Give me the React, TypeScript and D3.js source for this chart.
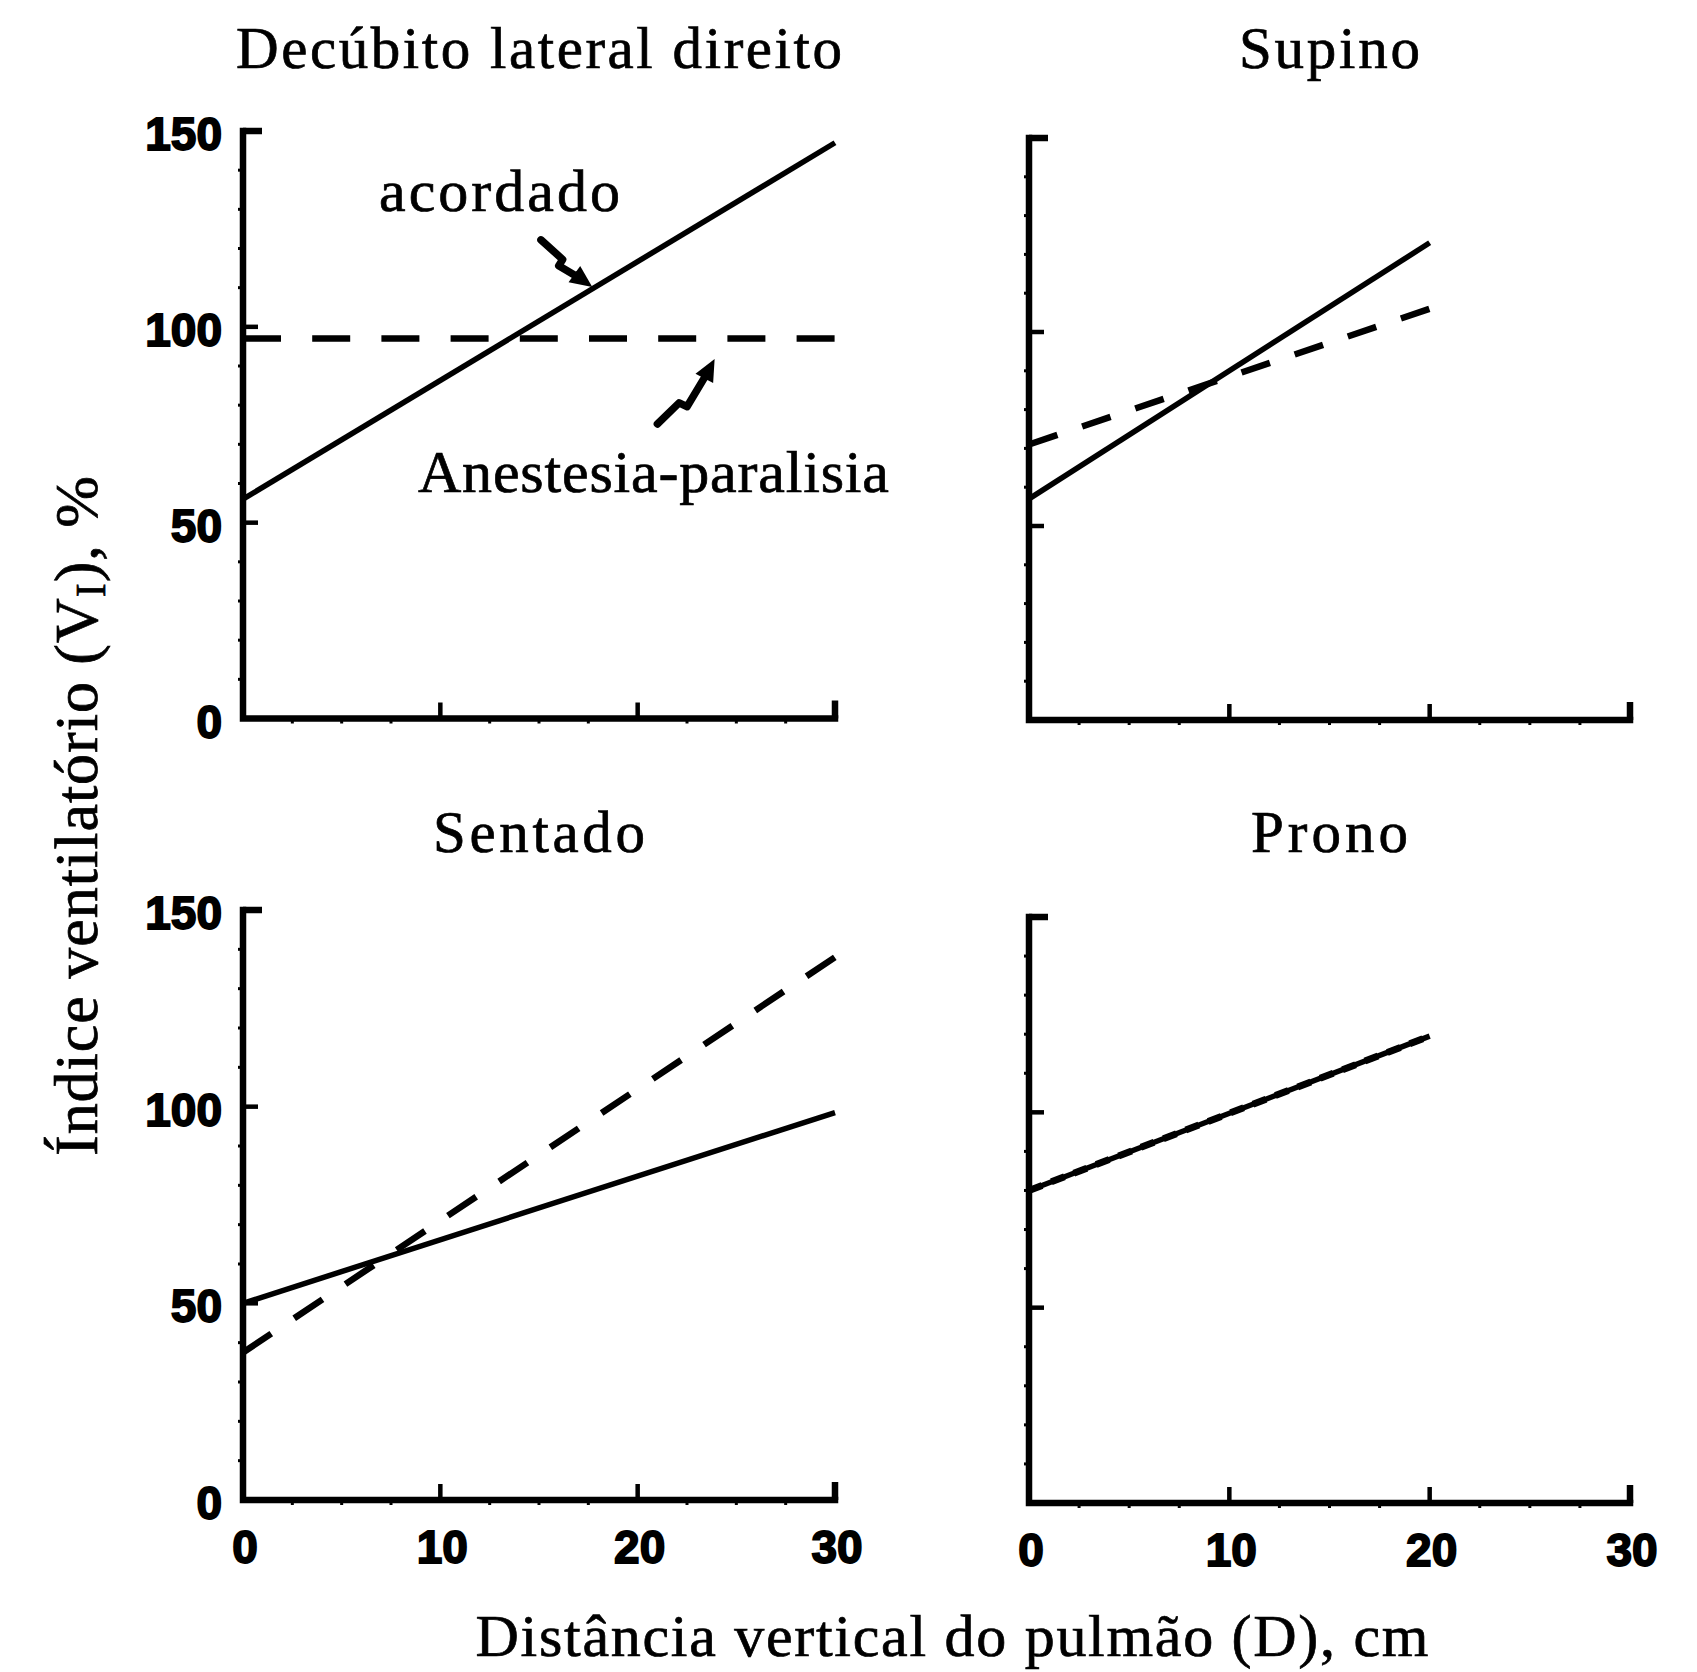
import React from 'react';
import * as d3 from 'd3';

// values (x = cm, y = %)
const panelTitles = ['Decúbito lateral direito', 'Supino', 'Sentado', 'Prono'];
const xTickValues = [0, 10, 20, 30];
const yTickValues = [0, 50, 100, 150];
const yMinorValues = [10, 20, 30, 40, 60, 70, 80, 90, 110, 120, 130, 140];
const xMinorValues = [2.5, 5, 7.5, 12.5, 15, 17.5, 22.5, 25, 27.5];

const lateralAwake = [[0, 56], [30, 147]];
const lateralAnesth = [[0, 97], [30, 97]];
const supineAwake = [[0, 57], [20, 123]];
const supineAnesth = [[0, 71], [20, 106]];
const sittingAwake = [[0, 50], [30, 98.5]];
const sittingAnesth = [[0, 37.5], [30, 138]];
const proneAwake = [[0, 80], [20, 119.5]];
const proneAnesth = [[0, 80], [20, 119.5]];

// annotation arrows, in data units of the first panel
const awakeArrow = [[15.1, 122.2], [16.2, 117.2], [16.0, 115.6], [17.2, 112.0]];
const awakeArrowTip = [17.7, 110.2];
const anesthArrow = [[21.0, 75.2], [22.1, 80.6], [22.5, 79.6], [23.5, 88.0]];
const anesthArrowTip = [23.9, 91.8];

const serif = "'Liberation Serif', 'DejaVu Serif', serif";
const sans = "'Liberation Sans', Arial, sans-serif";

const frames = [
  { x0: 243, x1: 835, yTop: 131, yBot: 718.5, yLabels: true, xLabels: false, titleY: 68 },
  { x0: 1029, x1: 1630, yTop: 138, yBot: 720, yLabels: false, xLabels: false, titleY: 68 },
  { x0: 243, x1: 835, yTop: 910, yBot: 1500, yLabels: true, xLabels: true, titleY: 852 },
  { x0: 1029, x1: 1630, yTop: 917, yBot: 1503, yLabels: false, xLabels: true, titleY: 852 },
];
const titleWidths = [606, 181, 212, 157];

const series = [
  [lateralAwake, lateralAnesth],
  [supineAwake, supineAnesth],
  [sittingAwake, sittingAnesth],
  [proneAwake, proneAnesth],
];
const dashes = ['38 31.2', '30 26.1', '34 27.6', '14 10'];

function Arrow({ pts, tip, x, y }) {
  const line = d3.line().x(d => x(d[0])).y(d => y(d[1]));
  const last = pts[pts.length - 1];
  const tx = x(tip[0]), ty = y(tip[1]);
  const lx = x(last[0]), ly = y(last[1]);
  const ang = Math.atan2(ty - ly, tx - lx);
  const len = 22, half = 10;
  const bx = tx - len * Math.cos(ang), by = ty - len * Math.sin(ang);
  const head = [
    [tx, ty],
    [bx + half * Math.sin(ang), by - half * Math.cos(ang)],
    [bx - half * Math.sin(ang), by + half * Math.cos(ang)],
  ];
  return (
    <g>
      <path d={line(pts)} fill="none" stroke="#000" strokeWidth={7.5} strokeLinejoin="round" strokeLinecap="round" />
      <path d={line(pts.slice(-1).concat([[x.invert(bx), y.invert(by)]]))} fill="none" stroke="#000" strokeWidth={7.5} />
      <polygon points={head.map(p => p.join(',')).join(' ')} fill="#000" />
    </g>
  );
}

function Panel({ idx }) {
  const f = frames[idx];
  const x = d3.scaleLinear().domain([0, 30]).range([f.x0, f.x1]);
  const y = d3.scaleLinear().domain([0, 150]).range([f.yBot, f.yTop]);
  const line = d3.line().x(d => x(d[0])).y(d => y(d[1]));
  const [awake, anesth] = series[idx];
  const cx = (f.x0 + f.x1) / 2;
  return (
    <g>
      <text x={cx} y={f.titleY} textAnchor="middle" fontFamily={serif} fontSize={59}
        textLength={titleWidths[idx]} lengthAdjust="spacing" stroke="#000" strokeWidth={0.7}>
        {panelTitles[idx]}
      </text>
      {/* minor ticks */}
      {yMinorValues.map(v => (
        <line key={'ym' + v} x1={f.x0 - 5} x2={f.x0} y1={y(v)} y2={y(v)} stroke="#000" strokeWidth={3} />
      ))}
      {xMinorValues.map(v => (
        <line key={'xm' + v} x1={x(v)} x2={x(v)} y1={f.yBot} y2={f.yBot + 5} stroke="#000" strokeWidth={3} />
      ))}
      {/* major ticks, inward */}
      {yTickValues.filter(v => v > 0).map(v => (
        <line key={'yt' + v} x1={f.x0} x2={f.x0 + (v === 150 ? 19 : 15)} y1={y(v)} y2={y(v)}
          stroke="#000" strokeWidth={v === 150 ? 6.5 : 4.5} />
      ))}
      {xTickValues.filter(v => v > 0).map(v => (
        <line key={'xt' + v} x1={x(v)} x2={x(v)} y1={f.yBot} y2={f.yBot - (v === 30 ? 18 : 16)}
          stroke="#000" strokeWidth={v === 30 ? 6.5 : 4.5} />
      ))}
      {/* axes */}
      <path d={`M${f.x0},${y(150)}V${f.yBot}H${f.x1}`} fill="none" stroke="#000" strokeWidth={6.5}
        strokeLinejoin="miter" strokeLinecap="square" />
      {f.yLabels && yTickValues.map(v => (
        <text key={'yl' + v} x={222} y={y(v) + 19} textAnchor="end" fontFamily={sans} fontWeight="bold"
          fontSize={46} stroke="#000" strokeWidth={1.8}>{v}</text>
      ))}
      {f.xLabels && xTickValues.map(v => (
        <text key={'xl' + v} x={x(v) + 2} y={f.yBot + 63} textAnchor="middle" fontFamily={sans} fontWeight="bold"
          fontSize={46} stroke="#000" strokeWidth={1.8}>{v}</text>
      ))}
      {/* data */}
      <path d={line(anesth)} fill="none" stroke="#000" strokeWidth={idx === 3 ? 7 : 6.5} strokeDasharray={dashes[idx]} />
      <path d={line(awake)} fill="none" stroke="#000" strokeWidth={5.5} />
      {idx === 0 && (
        <g>
          <text x={x(13.0)} y={y(129.6)} textAnchor="middle" fontFamily={serif} fontSize={60}
            textLength={241} lengthAdjust="spacing" stroke="#000" strokeWidth={0.7}>acordado</text>
          <text x={x(20.8)} y={y(57.8)} textAnchor="middle" fontFamily={serif} fontSize={60}
            textLength={471} lengthAdjust="spacing" stroke="#000" strokeWidth={0.7}>Anestesia-paralisia</text>
          <Arrow pts={awakeArrow} tip={awakeArrowTip} x={x} y={y} />
          <Arrow pts={anesthArrow} tip={anesthArrowTip} x={x} y={y} />
        </g>
      )}
    </g>
  );
}

export default function App() {
  return (
    <svg width={1697} height={1672} style={{ position: 'absolute', left: 0, top: 0, background: '#fff' }}>
      <rect width={1697} height={1672} fill="#fff" />
      {[0, 1, 2, 3].map(i => <Panel key={i} idx={i} />)}
      <text transform="translate(97,816) rotate(-90)" textAnchor="middle" fontFamily={serif} fontSize={62}
        textLength={680} lengthAdjust="spacing" stroke="#000" strokeWidth={0.7}>
        Índice ventilatório (V<tspan fontSize={42} baselineShift="-20%">I</tspan>), %
      </text>
      <text x={952} y={1656} textAnchor="middle" fontFamily={serif} fontSize={60}
        textLength={953} lengthAdjust="spacing" stroke="#000" strokeWidth={0.7}>
        Distância vertical do pulmão (D), cm
      </text>
    </svg>
  );
}
